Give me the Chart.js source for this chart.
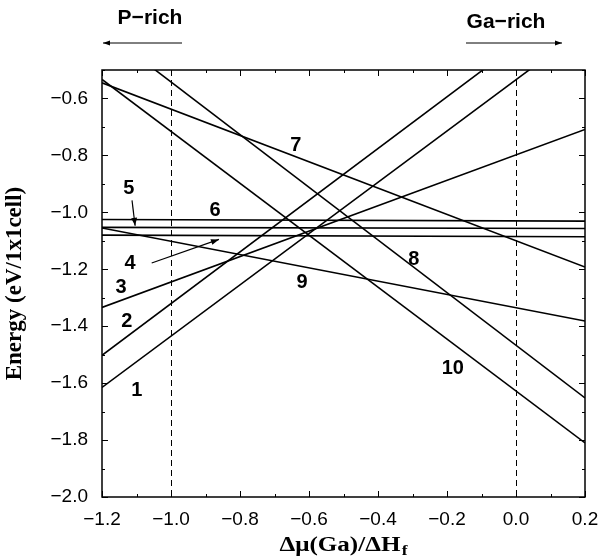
<!DOCTYPE html>
<html>
<head>
<meta charset="utf-8">
<title>Energy vs chemical potential</title>
<script src="https://cdn.jsdelivr.net/npm/chart.js@4"></script>
<style>
  html, body { margin: 0; padding: 0; background: #fff; }
  #wrap { width: 599px; height: 559px; }
</style>
</head>
<body>
<div id="wrap"><canvas id="energyChart" width="599" height="559"></canvas></div>
<script>
// x positions where each line is sampled (ends of the axis)
const xEnds = [-1.2, 0.2];

// energy of each structure at x = -1.2 and x = 0.2
const line1  = [-1.615, -0.354];
const line2  = [-1.502, -0.231];
const line3  = [-1.334, -0.709];
const line4  = [-1.080, -1.086];
const line5  = [-1.053, -1.057];
const line6  = [-1.025, -1.031];
const line7  = [-0.545, -1.192];
const line8  = [-0.357, -1.652];
const line9  = [-1.055, -1.382];
const line10 = [-0.533, -1.810];

const seriesNames = ['1', '2', '3', '4', '5', '6', '7', '8', '9', '10'];
const seriesValues = [line1, line2, line3, line4, line5, line6, line7, line8, line9, line10];

// tick labels
const xTicks = [-1.2, -1.0, -0.8, -0.6, -0.4, -0.2, 0.0, 0.2];
const yTicks = [-2.0, -1.8, -1.6, -1.4, -1.2, -1.0, -0.8, -0.6];

// limits of the P-rich / Ga-rich region (dashed lines)
const limitLines = [-1.0, 0.0];

// where the numbers sit, in data units
const labelX = [-1.099, -1.128, -1.145, -1.119, -1.122, -0.872, -0.638, -0.296, -0.620, -0.183];
const labelY = [-1.625, -1.385, -1.263, -1.178, -0.916, -0.995, -0.765, -1.165, -1.246, -1.547];

// the two little arrows for labels 5 and 4: [x0, y0, x1, y1]
const pointerArrows = [
  [-1.113, -0.958, -1.104, -1.047],
  [-1.056, -1.178, -0.861, -1.095]
];

const sansFont = "'Liberation Sans', Arial, Helvetica, sans-serif";
const serifFont = "'Liberation Serif', 'Times New Roman', serif";

function fmt(v) {
  const s = Math.abs(v).toFixed(1);
  return v < -1e-9 ? '\u2212' + s : s;
}

function arrowHead(ctx, x0, y0, x1, y1, len, wid) {
  const a = Math.atan2(y1 - y0, x1 - x0);
  ctx.beginPath();
  ctx.moveTo(x1, y1);
  ctx.lineTo(x1 - len * Math.cos(a) + wid * Math.sin(a), y1 - len * Math.sin(a) - wid * Math.cos(a));
  ctx.lineTo(x1 - len * Math.cos(a) - wid * Math.sin(a), y1 - len * Math.sin(a) + wid * Math.cos(a));
  ctx.closePath();
  ctx.fill();
}

function drawArrow(ctx, x0, y0, x1, y1, lw, len, wid) {
  ctx.lineWidth = lw;
  ctx.beginPath();
  ctx.moveTo(x0, y0);
  ctx.lineTo(x1, y1);
  ctx.stroke();
  arrowHead(ctx, x0, y0, x1, y1, len, wid);
}

// frame, inward ticks, dashed lines
const framePlugin = {
  id: 'frame',
  beforeDatasetsDraw(chart) {
    const ctx = chart.ctx;
    const { top, bottom } = chart.chartArea;
    const xs = chart.scales.x;
    ctx.save();
    ctx.strokeStyle = '#000';
    ctx.lineWidth = 1;
    ctx.setLineDash([6, 4]);
    limitLines.forEach(v => {
      const px = Math.round(xs.getPixelForValue(v)) + 0.5;
      ctx.beginPath();
      ctx.moveTo(px, top);
      ctx.lineTo(px, bottom);
      ctx.stroke();
    });
    ctx.setLineDash([]);
    ctx.restore();
  },
  afterDatasetsDraw(chart) {
    const ctx = chart.ctx;
    const { left, right, top, bottom } = chart.chartArea;
    const xs = chart.scales.x, ys = chart.scales.y;
    ctx.save();
    ctx.strokeStyle = '#000';
    ctx.fillStyle = '#000';
    ctx.lineWidth = 1.5;
    ctx.strokeRect(left, top, right - left, bottom - top);

    ctx.lineWidth = 1;
    ctx.beginPath();
    for (let i = 0; i <= 14; i++) {
      const v = -1.2 + i * 0.1;
      const px = Math.round(xs.getPixelForValue(v)) + 0.5;
      const len = i % 2 === 0 ? 6 : 3;
      ctx.moveTo(px, bottom); ctx.lineTo(px, bottom - len);
      ctx.moveTo(px, top); ctx.lineTo(px, top + len);
    }
    for (let i = 0; i <= 15; i++) {
      const v = -2.0 + i * 0.1;
      const py = Math.round(ys.getPixelForValue(v)) + 0.5;
      const len = i % 2 === 0 ? 6 : 3;
      ctx.moveTo(left, py); ctx.lineTo(left + len, py);
      ctx.moveTo(right, py); ctx.lineTo(right - len, py);
    }
    ctx.stroke();

    // numbers on the lines
    ctx.font = 'bold 20px ' + sansFont;
    ctx.textAlign = 'center';
    ctx.textBaseline = 'middle';
    seriesNames.forEach((n, i) => {
      ctx.fillText(n, xs.getPixelForValue(labelX[i]), ys.getPixelForValue(labelY[i]));
    });

    pointerArrows.forEach(a => {
      drawArrow(ctx, xs.getPixelForValue(a[0]), ys.getPixelForValue(a[1]),
        xs.getPixelForValue(a[2]), ys.getPixelForValue(a[3]), 1.2, 8, 3);
    });

    // P-rich / Ga-rich
    ctx.font = 'bold 21px ' + sansFont;
    ctx.fillText('P\u2212rich', 150, 18);
    ctx.fillText('Ga\u2212rich', 506, 22);
    drawArrow(ctx, 182, 43, 103, 43, 1, 7, 2.5);
    drawArrow(ctx, 466, 43, 562, 43, 1, 7, 2.5);

    // x axis title with subscript, stretched a bit like the original
    const cx = (left + right) / 2;
    const titleW = 128;
    const main = '\u0394\u03bc(Ga)/\u0394H';
    ctx.font = 'bold 20px ' + serifFont;
    const wMain = ctx.measureText(main).width;
    ctx.font = 'bold 14px ' + serifFont;
    const wSub = ctx.measureText('f').width;
    const sx = titleW / (wMain + wSub + 1);
    ctx.translate(cx - titleW / 2, 0);
    ctx.scale(sx, 1);
    ctx.textAlign = 'left';
    ctx.textBaseline = 'alphabetic';
    ctx.font = 'bold 20px ' + serifFont;
    ctx.fillText(main, 0, 551);
    ctx.font = 'bold 14px ' + serifFont;
    ctx.fillText('f', wMain + 1, 555);
    ctx.restore();
  }
};

const datasets = seriesValues.map((vals, i) => ({
  label: seriesNames[i],
  data: xEnds.map((x, j) => ({ x: x, y: vals[j] })),
  showLine: true,
  borderColor: '#000',
  borderWidth: 1.6,
  pointRadius: 0,
  fill: false
}));

new Chart(document.getElementById('energyChart'), {
  type: 'scatter',
  data: { datasets: datasets },
  options: {
    responsive: false,
    devicePixelRatio: 1,
    animation: false,
    layout: { padding: { top: 70, right: 14, left: 0, bottom: 0 } },
    plugins: {
      legend: { display: false },
      tooltip: { enabled: false }
    },
    scales: {
      x: {
        type: 'linear',
        min: -1.2,
        max: 0.2,
        grid: { display: false, drawTicks: false },
        border: { display: false },
        afterBuildTicks: s => { s.ticks = xTicks.map(v => ({ value: v })); },
        afterFit: s => { s.height = 62; s.paddingLeft = 0; s.paddingRight = 0; },
        ticks: {
          color: '#000',
          padding: 11,
          maxRotation: 0,
          autoSkip: false,
          font: { family: sansFont, size: 19 },
          callback: v => fmt(v)
        }
      },
      y: {
        type: 'linear',
        min: -2.0,
        max: -0.5,
        grid: { display: false, drawTicks: false },
        border: { display: false },
        afterBuildTicks: s => { s.ticks = yTicks.map(v => ({ value: v })); },
        afterFit: s => { s.width = 102; s.paddingTop = 0; s.paddingBottom = 0; },
        title: {
          display: true,
          text: 'Energy (eV/1x1cell)',
          color: '#000',
          font: { family: serifFont, size: 23, weight: 'bold' },
          padding: { top: 1, bottom: 0 }
        },
        ticks: {
          color: '#000',
          padding: 14,
          autoSkip: false,
          font: { family: sansFont, size: 19 },
          callback: v => fmt(v)
        }
      }
    }
  },
  plugins: [framePlugin]
});
</script>
</body>
</html>
